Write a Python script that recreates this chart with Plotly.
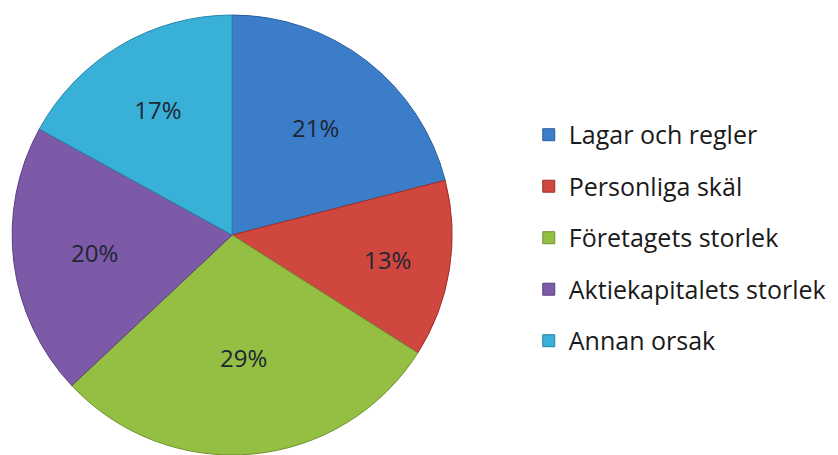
import plotly.graph_objects as go

# Reasons and their shares (percent)
categories = ["Lagar och regler", "Personliga skäl", "Företagets storlek",
              "Aktiekapitalets storlek", "Annan orsak"]
shares = [21, 13, 29, 20, 17]

fill_colors = ["#3c7dca", "#d0473f", "#94bf42", "#7d5aa8", "#39b0d7"]
edge_colors = ["#2c5f9e", "#9e2f2a", "#6f9230", "#5b3f80", "#2585a6"]

fig = go.Figure()

fig.add_trace(go.Pie(
    labels=categories,
    values=shares,
    sort=False,
    direction="clockwise",
    rotation=0,
    marker=dict(colors=fill_colors, line=dict(color=edge_colors, width=1)),
    texttemplate="%{percent:.0%}",
    textposition="inside",
    insidetextorientation="horizontal",
    textfont=dict(family="Open Sans", size=24, color="#1e2633"),
    domain=dict(x=[0.012, 0.542], y=[0.0, 0.967]),
    showlegend=False,
    hoverinfo="label+percent",
))

# Legend entries, one group per category so the rows can be spaced apart
for name, col, edge in zip(categories, fill_colors, edge_colors):
    fig.add_trace(go.Scatter(
        x=[None], y=[None], mode="markers", name=name,
        legendgroup=name,
        marker=dict(symbol="square", size=12, color=col,
                    line=dict(color=edge, width=1)),
    ))

fig.update_layout(
    width=838, height=455,
    margin=dict(l=0, r=0, t=0, b=0),
    paper_bgcolor="white",
    plot_bgcolor="white",
    xaxis=dict(visible=False),
    yaxis=dict(visible=False),
    legend=dict(
        x=0.631, y=0.477, xanchor="left", yanchor="middle",
        font=dict(family="Open Sans", size=25, color="#1a1a1a"),
        tracegroupgap=16,
        traceorder="grouped",
        bgcolor="rgba(0,0,0,0)",
    ),
)

fig.write_html("out.html")
